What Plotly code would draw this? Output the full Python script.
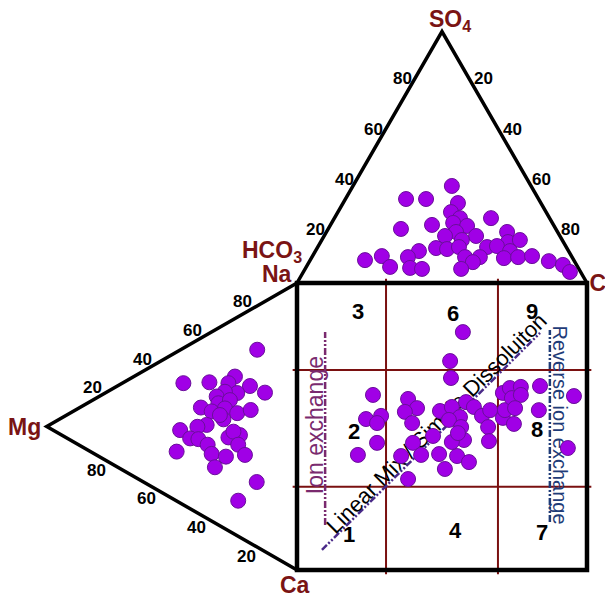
import plotly.graph_objects as go

# ---------------- data (percent values) ----------------
# Anion triangle (top): SO4 % and Cl % (HCO3 = remainder)
top_so4 = [38.6, 33.4, 33.4, 31.8, 28.2, 25.8, 23.9, 22.7, 23.1, 21.5, 25.8, 20.3, 18.7, 18.7,
           17.1, 20.3, 16.3, 17.1, 13.9, 13.5, 14.3, 12.7, 14.3, 14.7, 12.7, 10.7, 9.1, 10.3,
           10.3, 10.3, 8.3, 9.9, 10.3, 10.7, 8.7, 7.2, 4.4, 6.4, 6.0, 5.6, 5.6]
top_cl = [34.1, 20.9, 27.8, 39.6, 39.0, 43.3, 41.9, 47.3, 35.0, 25.1, 54.0, 44.7, 41.7, 52.4,
          48.3, 62.3, 64.6, 68.3, 41.0, 45.0, 48.7, 35.7, 58.4, 61.6, 67.1, 23.9, 18.9, 33.1,
          52.8, 57.9, 56.5, 66.4, 71.1, 75.7, 82.5, 88.1, 91.9, 28.9, 36.0, 40.3, 53.8]

# Cation triangle (left): Na % and Mg % (Ca = remainder)
left_na = [68.8, 42.4, 47.9, 55.0, 51.4, 54.7, 55.4, 49.7, 47.7, 44.4, 42.4, 45.8, 37.4, 38.2,
           41.9, 42.7, 46.5, 37.8, 32.5, 30.0, 25.4, 24.5, 25.9, 25.8, 32.5, 35.6, 35.5, 31.9,
           23.4, 25.3, 29.7, 17.2, 19.4, 22.6, 12.4, 38.6]
left_mg = [15.9, 45.4, 35.0, 24.8, 27.4, 18.8, 12.8, 23.9, 28.8, 32.1, 31.4, 26.8, 38.4, 34.1,
           28.8, 23.9, 18.5, 29.4, 36.1, 39.8, 46.7, 42.7, 39.4, 35.7, 27.4, 22.8, 25.4, 23.5,
           34.1, 28.4, 20.8, 48.1, 32.8, 16.1, 23.5, 30.8]

# Central square: anion axis % (x) and cation axis % (y)
sq_x = [57.2, 52.8, 53.1, 26.2, 23.8, 29.0, 27.6, 27.6, 21.0, 38.3, 41.4, 37.2, 39.7, 46.9,
        40.0, 35.9, 42.8, 38.3, 49.0, 51.0, 55.2, 59.3, 57.6, 53.4, 49.3, 53.4, 58.3, 61.0,
        56.2, 52.4, 56.6, 55.5, 63.8, 66.6, 65.9, 66.2, 71.0, 71.7, 71.0, 73.4, 77.2, 74.1,
        77.2, 75.2, 74.8, 83.8, 83.4, 95.5, 93.4]
sq_y = [82.9, 72.8, 66.9, 61.0, 52.6, 53.7, 51.2, 44.3, 40.1, 59.6, 56.4, 55.1, 51.2, 46.7,
        44.3, 39.7, 40.1, 31.7, 40.4, 35.2, 39.7, 37.6, 45.3, 44.6, 55.4, 56.8, 58.5, 56.8,
        53.3, 52.3, 49.8, 47.7, 53.7, 55.7, 49.8, 44.9, 53.0, 55.7, 61.7, 63.4, 63.8, 59.9,
        61.0, 56.4, 50.9, 64.1, 55.7, 60.6, 42.5]

tick_values = [20, 40, 60, 80]
grid_cuts = [30.7, 69.3]          # vertical class boundaries (x)
grid_cuts_y = [29.0, 69.7]        # horizontal class boundaries (y)
region_labels = ["3", "6", "9", "2", "8", "1", "4", "7"]

# ---------------- geometry ----------------
TOP_H = 87.6    # height of anion triangle (square side = 100)
LEFT_W = 86.3   # width of cation triangle

def top_xy(cl, so4):
    return cl + so4 / 2.0, 100 + so4 * TOP_H / 100.0

def left_xy(na, mg):
    return -LEFT_W * mg / 100.0, na + mg / 2.0

tx, ty = zip(*[top_xy(c, s) for c, s in zip(top_cl, top_so4)])
lx, ly = zip(*[left_xy(n, m) for n, m in zip(left_na, left_mg)])

FONT = "Liberation Sans, Arial, sans-serif"
DARKRED = "#7a1414"
PURPLE = "#A000E6"
EDGE = "#6a0f9a"

fig = go.Figure()
marker = dict(size=15, color=PURPLE, line=dict(color=EDGE, width=1))
for xs, ys in [(tx, ty), (lx, ly), (sq_x, sq_y)]:
    fig.add_trace(go.Scatter(x=list(xs), y=list(ys), mode="markers", marker=marker,
                             hoverinfo="skip", showlegend=False))

shapes = []
# grid lines (dark red)
for g in grid_cuts:
    shapes.append(dict(type="line", x0=g, x1=g, y0=-1.5, y1=101.5,
                       line=dict(color="#7a1010", width=2), layer="below"))
for g in grid_cuts_y:
    shapes.append(dict(type="line", x0=-1.5, x1=101.5, y0=g, y1=g,
                       line=dict(color="#7a1010", width=2), layer="below"))
# square
shapes.append(dict(type="rect", x0=0, x1=100, y0=0, y1=100,
                   line=dict(color="black", width=4.5), layer="below"))
# triangles
shapes.append(dict(type="path", path=f"M 0,100 L 50,{100+TOP_H} L 100,100",
                   line=dict(color="black", width=3.5), layer="below"))
shapes.append(dict(type="path", path=f"M 0,100 L {-LEFT_W},50 L 0,0",
                   line=dict(color="black", width=3.5), layer="below"))
# process lines
shapes.append(dict(type="line", x0=9.7, x1=9.7, y0=15.7, y1=82.9,
                   line=dict(color="#7a2a6e", width=2.5, dash="7px,2px,2px,2px,2px,2px"),
                   layer="below"))
shapes.append(dict(type="line", x0=87.2, x1=87.2, y0=16.7, y1=83.6,
                   line=dict(color="#1f3c78", width=2.5, dash="7px,2px,2px,2px,2px,2px"),
                   layer="below"))
shapes.append(dict(type="line", x0=8.6, x1=83.8, y0=7.0, y1=82.6,
                   line=dict(color="#4a2a88", width=2.5, dash="7px,2px,2px,2px,2px,2px"),
                   layer="below"))

# labels drawn with shape labels on invisible lines
def label_line(x0, y0, x1, y1, text, angle, color, size, layer="below"):
    return dict(type="line", x0=x0, x1=x1, y0=y0, y1=y1,
                line=dict(color="rgba(0,0,0,0)", width=1), layer=layer,
                label=dict(text=text, textangle=angle, textposition="middle",
                           xanchor="center", yanchor="middle", padding=0,
                           font=dict(family=FONT, size=size, color=color)))

shapes.append(label_line(5.4, 30, 5.4, 71, "Ion exchange", -90, "#7a2a6e", 23))
shapes.append(label_line(91.4, 71, 91.4, 30, "Reverse ion exchange", 90, "#1f3c78", 20))
shapes.append(label_line(37.6, 41.6, 57.6, 61.6, "Linear Mix / Simple Dissoluiton", -45, "black", 22))
# "Cl" corner label (partly past the right edge, as in the original)
shapes.append(label_line(103.8, 100.7, 105.8, 100.7, "<b>Cl</b>", 0, DARKRED, 23, layer="above"))

annotations = []
def ann(x, y, text, size, color="black", xshift=0, yshift=0, xanchor="center"):
    annotations.append(dict(x=x, y=y, text=text, showarrow=False, xshift=xshift, yshift=yshift,
                            font=dict(family=FONT, size=size, color=color),
                            xanchor=xanchor, yanchor="middle"))

# tick labels
for v in tick_values:
    ann(v / 2.0, 100 + v * TOP_H / 100.0, f"<b>{v}</b>", 17, xshift=-11, yshift=3)
    ann(50 + v / 2.0, 100 + (100 - v) * TOP_H / 100.0, f"<b>{v}</b>", 17, xshift=13, yshift=3)
    ann(-LEFT_W * (100 - v) / 100.0, v + (100 - v) / 2.0, f"<b>{v}</b>", 17, xshift=-4, yshift=10)
    ann(-LEFT_W * v / 100.0, v / 2.0, f"<b>{v}</b>", 17, yshift=-15)

# corner labels
ann(52.8, 191.3, "<b>SO<sub>4</sub></b>", 23, DARKRED)
ann(-8.6, 111.0, "<b>HCO<sub>3</sub></b>", 23, DARKRED)
ann(-6.9, 103.1, "<b>Na</b>", 23, DARKRED)
ann(-93.8, 49.8, "<b>Mg</b>", 23, DARKRED)
ann(-0.7, -5.2, "<b>Ca</b>", 23, DARKRED)

# region numbers
region_pos = [(21.0, 89.9), (53.8, 89.5), (81.0, 90.2), (19.7, 48.1), (82.8, 49.1),
              (17.9, 12.2), (54.5, 13.9), (84.5, 13.2)]
for lab, (x, y) in zip(region_labels, region_pos):
    ann(x, y, f"<b>{lab}</b>", 22)

# page has an 8px body margin: the figure occupies window pixels 8..613 / 8..596
fig.update_layout(
    width=605, height=588, autosize=False,
    margin=dict(l=0, r=0, t=0, b=0),
    paper_bgcolor="white", plot_bgcolor="white",
    xaxis=dict(range=[-99.66, 108.97], visible=False, fixedrange=True),
    yaxis=dict(range=[-9.06, 195.82], visible=False, fixedrange=True),
    shapes=shapes, annotations=annotations, showlegend=False,
)

fig.write_html("out.html")
